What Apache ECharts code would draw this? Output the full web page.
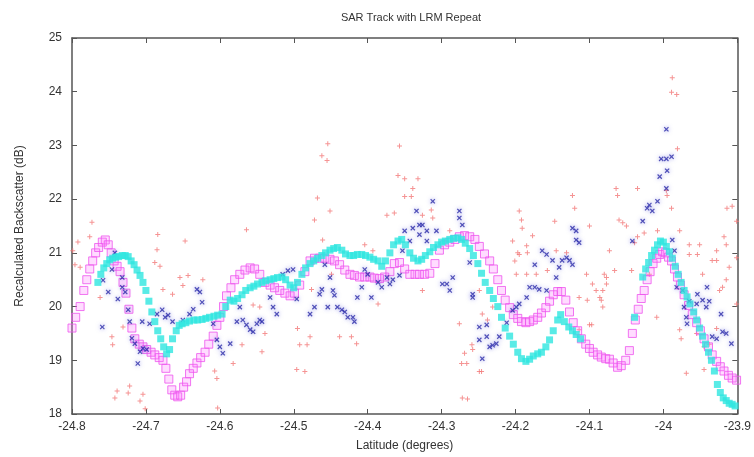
<!DOCTYPE html>
<html>
<head>
<meta charset="utf-8">
<script src="https://cdn.jsdelivr.net/npm/echarts@6/dist/echarts.min.js"></script>
<style>
  html, body { margin: 0; padding: 0; background: #fff; }
  #main { width: 754px; height: 457px; }
</style>
</head>
<body>
<div id="main"></div>
<script>
// latitude / backscatter pairs
var redPlus = [
  [-24.773,21.57],[-24.792,21.2],[-24.776,21.3],[-24.796,20.78],[-24.799,21.04],[-24.789,20.73],
  [-24.684,21.34],[-24.685,21.06],[-24.688,20.82],[-24.681,20.75],[-24.647,21.22],[-24.654,20.54],
  [-24.643,20.58],[-24.623,20.5],[-24.677,20.32],[-24.664,20.23],[-24.650,20.39],[-24.745,19.29],
  [-24.722,18.52],[-24.739,18.43],[-24.742,18.3],[-24.724,18.39],[-24.708,18.24],[-24.704,18.37],
  [-24.701,18.1],[-24.607,18.8],[-24.604,18.66],[-24.603,18.11],[-24.582,18.94],[-24.570,19.29],
  [-24.564,21.43],[-24.762,20.17],[-24.731,19.62],[-24.746,19.44],
  [-24.454,23.03],[-24.462,22.81],[-24.455,22.72],[-24.468,22.02],[-24.451,21.78],[-24.472,21.61],
  [-24.461,21.24],[-24.357,22.99],[-24.359,22.44],[-24.350,22.38],[-24.332,22.38],[-24.339,22.2],
  [-24.350,22.05],[-24.341,22.05],[-24.374,21.7],[-24.364,21.74],[-24.404,21.15],[-24.393,21.04],
  [-24.495,19.59],[-24.492,19.29],[-24.482,19.29],[-24.478,19.44],[-24.496,18.83],[-24.485,18.79],
  [-24.438,19.44],[-24.422,19.44],[-24.415,19.31],[-24.476,20.32],[-24.449,20.6],[-24.386,20.05],
  [-24.546,19.99],[-24.539,19.5],[-24.543,19.16],[-24.555,20.03],[-24.326,20.3],[-24.312,21.65],
  [-24.314,21.8],[-24.289,21.41],[-24.326,21.7],
  [-24.195,21.78],[-24.191,21.46],[-24.204,21.22],[-24.199,20.6],[-24.185,20.6],[-24.195,20.97],
  [-24.249,20.3],[-24.231,19.99],[-24.245,19.86],[-24.276,19.68],[-24.273,18.94],[-24.266,18.94],
  [-24.259,19.29],[-24.258,19.2],[-24.249,18.79],[-24.272,18.3],[-24.265,18.28],[-24.269,19.13],
  [-24.246,18.79],[-24.238,19.75],[-24.192,21.61],[-24.197,21.0],[-24.184,21.0],[-24.201,20.85],
  [-24.177,21.32],[-24.185,21.13],[-24.172,20.6],[-24.147,21.59],[-24.123,22.07],[-24.120,21.83],
  [-24.145,21.04],[-24.131,21.0],[-24.100,21.5],[-24.157,20.67],[-24.104,20.6],[-24.096,20.42],
  [-24.080,20.6],[-24.114,20.17],[-24.103,20.12],[-24.086,20.17],[-24.082,19.99],[-24.097,19.66],
  [-24.114,19.57],[-24.077,20.42],
  [-23.988,24.26],[-23.989,23.99],[-23.982,23.95],[-23.981,22.94],[-23.996,22.16],[-23.995,22.07],
  [-24.035,22.2],[-24.064,22.2],[-24.062,22.07],[-24.060,21.61],[-24.055,21.56],[-24.050,21.5],
  [-24.026,21.37],[-24.008,21.41],[-23.978,21.41],[-23.989,21.83],[-24.035,21.3],[-24.039,21.19],
  [-24.043,20.67],[-24.073,21.04],[-24.066,20.67],[-24.077,20.54],[-24.082,20.3],[-24.084,20.12],
  [-24.091,20.3],[-24.100,19.66],[-23.965,20.97],[-23.954,20.97],[-23.951,21.15],[-23.965,21.15],
  [-23.934,20.86],[-23.928,20.86],[-23.928,21.04],[-23.918,21.3],[-23.915,21.15],[-23.914,21.83],
  [-23.907,21.87],[-23.911,20.73],[-23.920,20.36],[-23.915,20.5],[-23.924,20.3],[-23.901,21.59],
  [-23.901,20.91],[-23.901,20.05],[-23.978,19.57],[-23.976,19.4],[-23.969,18.76],[-23.955,19.5],
  [-23.945,19.25],[-23.945,18.83],[-23.938,19.3],[-23.947,20.6],[-23.928,19.59],[-24.009,19.8],
  [-24.019,20.6]
];

var blueCross = [
  [-24.759,19.62],[-24.758,20.49],[-24.751,20.27],[-24.746,20.69],[-24.742,21.0],[-24.738,20.14],
  [-24.732,20.54],[-24.732,20.36],[-24.728,20.27],[-24.724,19.94],[-24.722,19.72],[-24.719,19.41],
  [-24.715,19.31],[-24.711,18.94],[-24.708,19.16],[-24.704,19.22],[-24.699,19.2],[-24.705,19.72],
  [-24.695,19.68],[-24.685,19.86],[-24.678,19.94],[-24.674,19.8],[-24.670,19.84],[-24.664,19.72],
  [-24.650,19.75],[-24.641,19.86],[-24.631,20.32],[-24.627,20.27],[-24.624,20.08],[-24.636,19.95],
  [-24.609,19.68],[-24.604,19.38],[-24.600,19.25],[-24.596,19.13],[-24.586,19.31],[-24.577,19.72],
  [-24.569,19.75],[-24.564,19.66],[-24.559,19.57],[-24.555,19.53],[-24.550,19.68],[-24.543,19.72],
  [-24.546,19.75],[-24.532,20.17],[-24.528,19.99],[-24.523,19.86],[-24.515,20.6],[-24.508,20.67],
  [-24.501,20.69],[-24.496,20.14],[-24.573,19.99],
  [-24.478,19.86],[-24.472,19.99],[-24.465,20.23],[-24.462,20.32],[-24.458,20.78],[-24.454,19.99],
  [-24.451,20.54],[-24.447,20.3],[-24.445,20.21],[-24.441,19.99],[-24.435,19.94],[-24.431,19.9],
  [-24.427,19.8],[-24.420,19.8],[-24.418,19.72],[-24.414,20.17],[-24.408,20.36],[-24.404,20.69],
  [-24.400,20.6],[-24.395,20.17],[-24.386,20.45],[-24.381,20.36],[-24.374,20.54],[-24.370,20.42],
  [-24.366,20.5],[-24.357,20.58],[-24.353,21.04],[-24.350,21.41],[-24.343,21.22],[-24.339,21.46],
  [-24.334,21.78],[-24.330,21.52],[-24.326,21.52],[-24.320,21.41],[-24.312,21.96],[-24.307,21.41],
  [-24.330,21.34],[-24.320,21.22],
  [-24.299,20.42],[-24.293,20.42],[-24.289,20.3],[-24.285,20.54],[-24.276,21.78],[-24.276,21.65],
  [-24.272,21.52],[-24.262,20.82],[-24.258,20.23],[-24.258,20.17],[-24.249,19.62],[-24.249,19.38],
  [-24.245,19.03],[-24.239,19.66],[-24.239,19.44],[-24.235,19.25],[-24.231,19.28],[-24.226,19.31],
  [-24.222,19.44],[-24.212,19.7],[-24.204,19.93],[-24.199,19.99],[-24.195,20.05],[-24.185,20.17],
  [-24.181,20.36],[-24.174,20.36],[-24.168,20.32],[-24.158,20.3],[-24.174,20.78],[-24.164,21.04],
  [-24.158,20.97],[-24.150,20.86],[-24.145,20.54],[-24.141,20.73],[-24.137,20.86],[-24.131,20.91],
  [-24.127,20.86],[-24.123,20.78],[-24.123,21.46],[-24.118,21.41],[-24.114,21.19],[-24.118,21.24],
  [-24.042,21.22],[-24.028,21.59],[-24.022,21.83],[-24.019,21.89],[-24.015,21.78],[-24.008,21.96],
  [-24.005,22.42],[-24.003,22.75],[-23.996,22.75],[-23.989,22.79],[-23.995,22.53],[-23.996,23.3],
  [-23.996,22.2],[-23.988,21.24],[-23.985,21.04],[-23.982,20.36],[-23.974,20.3],[-23.972,19.99],
  [-23.969,19.8],[-23.968,19.68],[-23.965,20.1],[-23.955,20.05],[-23.954,20.23],[-23.947,20.12],
  [-23.942,19.99],[-23.941,20.36],[-23.938,20.1],[-23.934,19.44],[-23.928,19.4],[-23.922,19.86],
  [-23.920,19.53],[-23.915,19.5],[-23.908,19.31]
];

var magentaCurve = [
  [-24.800,19.6],[-24.795,19.8],[-24.789,20.0],[-24.784,20.3],[-24.780,20.5],[-24.776,20.7],
  [-24.772,20.85],[-24.768,21.0],[-24.764,21.1],[-24.759,21.2],[-24.755,21.24],[-24.751,21.15],
  [-24.747,21.0],[-24.743,20.85],[-24.739,20.75],[-24.735,20.65],[-24.731,20.45],[-24.727,20.25],
  [-24.723,19.95],[-24.719,19.6],[-24.715,19.4],[-24.709,19.3],[-24.704,19.25],[-24.699,19.2],
  [-24.693,19.15],[-24.688,19.1],[-24.682,19.05],[-24.677,19.0],[-24.673,18.85],[-24.669,18.65],
  [-24.665,18.45],[-24.661,18.35],[-24.657,18.32],[-24.653,18.35],[-24.649,18.5],[-24.645,18.6],
  [-24.641,18.75],[-24.636,18.85],[-24.631,18.95],[-24.626,19.05],[-24.620,19.15],[-24.615,19.3],
  [-24.609,19.45],[-24.604,19.65],[-24.600,19.8],[-24.595,20.0],[-24.591,20.2],[-24.585,20.35],
  [-24.580,20.5],[-24.573,20.6],[-24.566,20.68],[-24.559,20.72],[-24.553,20.7],[-24.546,20.6],
  [-24.539,20.45],[-24.532,20.4],[-24.526,20.35],[-24.519,20.3],[-24.512,20.25],[-24.505,20.2],
  [-24.499,20.25],[-24.492,20.4],[-24.485,20.65],[-24.478,20.85],[-24.472,20.9],[-24.465,20.9],
  [-24.458,20.9],[-24.451,20.88],[-24.445,20.85],[-24.438,20.78],[-24.431,20.68],[-24.424,20.6],
  [-24.418,20.58],[-24.411,20.55],[-24.404,20.55],[-24.397,20.55],[-24.391,20.53],[-24.384,20.52],
  [-24.377,20.55],[-24.370,20.65],[-24.364,20.8],[-24.357,20.82],[-24.350,20.7],[-24.343,20.6],
  [-24.336,20.6],[-24.330,20.6],[-24.323,20.6],[-24.316,20.62],[-24.309,20.8],[-24.303,21.05],
  [-24.296,21.15],[-24.289,21.2],[-24.282,21.25],[-24.276,21.3],[-24.269,21.32],[-24.262,21.3],
  [-24.255,21.25],[-24.249,21.12],[-24.242,20.98],[-24.235,20.85],[-24.230,20.7],[-24.224,20.5],
  [-24.219,20.3],[-24.214,20.12],[-24.208,19.98],[-24.203,19.85],[-24.197,19.78],[-24.192,19.72],
  [-24.186,19.7],[-24.181,19.72],[-24.176,19.75],[-24.170,19.8],[-24.165,19.88],[-24.159,19.98],
  [-24.154,20.1],[-24.149,20.22],[-24.143,20.28],[-24.138,20.28],[-24.132,20.12],[-24.127,19.9],
  [-24.122,19.7],[-24.116,19.55],[-24.111,19.4],[-24.105,19.3],[-24.100,19.22],[-24.095,19.15],
  [-24.089,19.1],[-24.084,19.06],[-24.078,19.03],[-24.073,19.02],[-24.068,18.95],[-24.062,18.87],
  [-24.057,18.9],[-24.051,19.0],[-24.046,19.18],[-24.042,19.5],[-24.038,19.75],[-24.034,19.95],
  [-24.030,20.15],[-24.026,20.3],[-24.022,20.5],[-24.018,20.65],[-24.014,20.8],[-24.009,20.9],
  [-24.005,20.97],[-24.001,21.02],[-23.997,21.0],[-23.993,20.92],[-23.989,20.85],[-23.985,20.7],
  [-23.981,20.55],[-23.977,20.4],[-23.972,20.22],[-23.966,20.02],[-23.961,19.85],[-23.955,19.7],
  [-23.950,19.55],[-23.945,19.4],[-23.939,19.25],[-23.934,19.1],[-23.928,18.98],[-23.923,18.88],
  [-23.918,18.8],[-23.912,18.72],[-23.907,18.67],[-23.901,18.63]
];

var cyanCurve = [
  [-24.765,20.45],[-24.761,20.6],[-24.757,20.72],[-24.753,20.8],[-24.749,20.87],[-24.745,20.9],
  [-24.741,20.92],[-24.737,20.93],[-24.732,20.95],[-24.728,20.95],[-24.724,20.93],[-24.720,20.85],
  [-24.716,20.78],[-24.712,20.68],[-24.708,20.58],[-24.704,20.45],[-24.700,20.3],[-24.696,20.1],
  [-24.692,19.9],[-24.688,19.72],[-24.684,19.55],[-24.680,19.4],[-24.676,19.25],[-24.672,19.12],
  [-24.668,19.2],[-24.664,19.4],[-24.659,19.55],[-24.655,19.65],[-24.651,19.68],[-24.646,19.7],
  [-24.641,19.73],[-24.635,19.75],[-24.630,19.75],[-24.624,19.76],[-24.619,19.78],[-24.614,19.8],
  [-24.608,19.82],[-24.603,19.84],[-24.597,19.86],[-24.592,20.0],[-24.586,20.12],[-24.581,20.1],
  [-24.576,20.15],[-24.570,20.22],[-24.565,20.3],[-24.559,20.35],[-24.554,20.38],[-24.549,20.42],
  [-24.543,20.45],[-24.538,20.48],[-24.532,20.5],[-24.527,20.52],[-24.522,20.54],[-24.516,20.55],
  [-24.511,20.5],[-24.505,20.4],[-24.500,20.35],[-24.495,20.45],[-24.489,20.6],[-24.484,20.72],
  [-24.478,20.8],[-24.473,20.85],[-24.468,20.9],[-24.462,20.95],[-24.457,21.0],[-24.451,21.05],
  [-24.446,21.08],[-24.441,21.1],[-24.435,21.05],[-24.430,20.98],[-24.424,20.95],[-24.419,20.95],
  [-24.414,20.97],[-24.408,20.97],[-24.403,20.95],[-24.397,20.92],[-24.392,20.88],[-24.386,20.85],
  [-24.381,20.75],[-24.376,20.85],[-24.370,21.0],[-24.365,21.15],[-24.359,21.22],[-24.354,21.25],
  [-24.349,21.15],[-24.343,21.0],[-24.338,20.9],[-24.332,20.85],[-24.327,20.88],[-24.322,20.95],
  [-24.316,21.02],[-24.311,21.1],[-24.305,21.15],[-24.300,21.2],[-24.295,21.22],[-24.289,21.25],
  [-24.284,21.27],[-24.278,21.28],[-24.273,21.25],[-24.268,21.18],[-24.262,21.08],[-24.257,20.95],
  [-24.251,20.8],[-24.246,20.62],[-24.241,20.45],[-24.235,20.3],[-24.230,20.15],[-24.224,20.0],
  [-24.219,19.8],[-24.214,19.6],[-24.208,19.45],[-24.203,19.3],[-24.197,19.15],[-24.192,19.03],
  [-24.186,18.98],[-24.181,19.02],[-24.176,19.08],[-24.170,19.12],[-24.165,19.15],[-24.159,19.25],
  [-24.154,19.38],[-24.149,19.55],[-24.143,19.75],[-24.139,19.85],[-24.134,19.72],[-24.128,19.62],
  [-24.123,19.55],[-24.118,19.48],[-24.112,19.4],
  [-24.039,19.8],[-24.028,20.55],[-24.024,20.7],[-24.020,20.82],[-24.016,20.95],[-24.012,21.05],
  [-24.008,21.15],[-24.004,21.22],[-24.000,21.2],[-23.996,21.12],[-23.992,21.02],[-23.988,20.9],
  [-23.984,20.75],[-23.980,20.6],[-23.976,20.45],[-23.972,20.3],[-23.968,20.18],[-23.964,20.05],
  [-23.959,19.9],[-23.955,19.75],[-23.951,19.6],[-23.947,19.45],[-23.943,19.3],[-23.939,19.15],
  [-23.935,19.0],[-23.931,18.8],[-23.927,18.55],[-23.923,18.4],[-23.919,18.3],[-23.915,18.25],
  [-23.911,18.2],[-23.907,18.18],[-23.903,18.15]
];

var plusPath = 'path://M4,0H6V4H10V6H6V10H4V6H0V4H4Z';
var fontFam = '"Liberation Sans", Arial, sans-serif';

var chart = echarts.init(document.getElementById('main'));
var lab = { color: '#333', fontSize: 12, fontFamily: fontFam };
var tickIn = { show: true, inside: true, length: 5, lineStyle: { color: '#555' } };
var lineSt = { show: true, lineStyle: { color: '#555', width: 1.5 } };

chart.setOption({
  animation: false,
  backgroundColor: '#fff',
  title: {
    text: 'SAR Track with LRM Repeat',
    left: 406, top: 7, textAlign: 'center',
    textStyle: { fontSize: 11, fontWeight: 'normal', color: '#333', fontFamily: fontFam }
  },
  grid: { left: 72, right: 16, top: 38, bottom: 39 },
  xAxis: [{
    type: 'value', min: -24.8, max: -23.9, interval: 0.1,
    name: 'Latitude (degrees)', nameLocation: 'middle', nameGap: 26,
    nameTextStyle: lab,
    axisLine: lineSt, axisTick: tickIn, splitLine: { show: false },
    axisLabel: Object.assign({ margin: 7, formatter: function (v) { return String(+v.toFixed(1)); } }, lab)
  }, {
    type: 'value', position: 'top', min: -24.8, max: -23.9, interval: 0.1,
    axisLine: lineSt, axisTick: tickIn, axisLabel: { show: false }, splitLine: { show: false }
  }],
  yAxis: [{
    type: 'value', min: 18, max: 25, interval: 1,
    name: 'Recalculated Backscatter (dB)', nameLocation: 'middle', nameGap: 46,
    nameTextStyle: lab,
    axisLine: lineSt, axisTick: tickIn, splitLine: { show: false },
    axisLabel: Object.assign({ margin: 10 }, lab)
  }, {
    type: 'value', position: 'right', min: 18, max: 25, interval: 1,
    axisLine: lineSt, axisTick: tickIn, axisLabel: { show: false }, splitLine: { show: false }
  }],
  series: [{
    name: 'red', type: 'scatter', data: redPlus,
    symbol: plusPath, symbolSize: 5,
    itemStyle: { color: '#f27878' }
  }, {
    name: 'magenta', type: 'scatter', data: magentaCurve,
    symbol: 'rect', symbolSize: 8,
    itemStyle: { color: 'rgba(255,110,255,0.3)', borderColor: '#ee55ee', borderWidth: 1 }
  }, {
    name: 'blue', type: 'scatter', data: blueCross,
    symbol: plusPath, symbolSize: 6, symbolRotate: 45,
    itemStyle: { color: '#2a2aa8', shadowBlur: 4, shadowColor: 'rgba(80,80,220,0.7)' }
  }, {
    name: 'cyan', type: 'scatter', data: cyanCurve,
    symbol: 'rect', symbolSize: 7,
    itemStyle: { color: '#2ee6e0' }
  }]
});
</script>
</body>
</html>
